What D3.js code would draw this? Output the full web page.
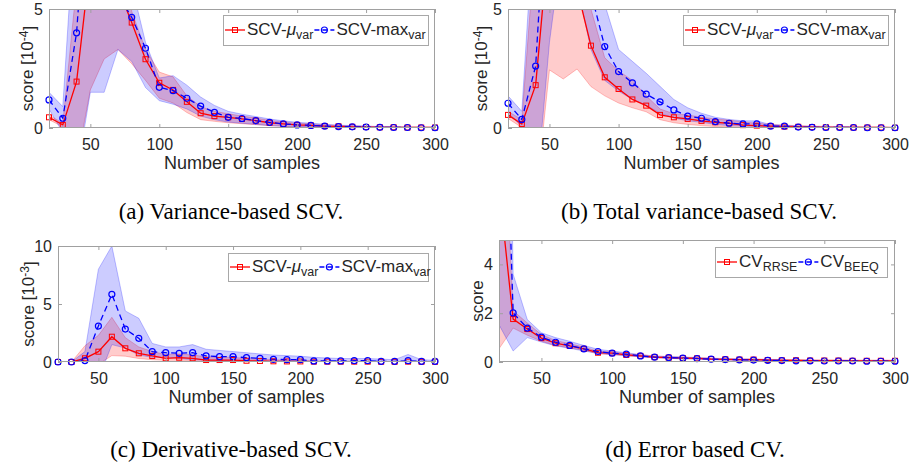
<!DOCTYPE html>
<html>
<head>
<meta charset="utf-8">
<script src="https://cdn.jsdelivr.net/npm/d3@7.9.0/dist/d3.min.js"></script>
<style>
  body { margin: 0; background: #fff; }
  svg { display: block; }
  text { font-family: "Liberation Sans", Arial, sans-serif; fill: #262626; }
  .cap { font-family: "Liberation Serif", "Times New Roman", serif; fill: #000; }
</style>
</head>
<body>
<svg id="fig" width="913" height="468"></svg>
<script>
/* ------------------------------- Data ------------------------------- */
const samples = [20, 30, 40, 50, 60, 70, 80, 90, 100, 110, 120, 130, 140, 150, 160,
  170, 180, 190, 200, 210, 220, 230, 240, 250, 260, 270, 280, 290, 300];

const xTicks = [50, 100, 150, 200, 250, 300];
const yTicksA = [0, 5];
const yTicksB = [0, 5];
const yTicksC = [0, 5, 10];
const yTicksD = [0, 2, 4];

// (a) variance-based SCV, score in 1e-4
const aMuMean = [0.45, 0.13, 1.95, 7.0, 9.0, 5.9, 4.43, 2.89, 1.9, 1.6, 1.1, 0.62, 0.5, 0.45, 0.38, 0.31, 0.22, 0.17, 0.13, 0.11, 0.08, 0.07, 0.05, 0.04, 0.03, 0.03, 0.02, 0.02, 0.02];
const aMuLo   = [0.35, 0.05, -1.5, 1.6, 2.9, 3.3, 2.7, 2.0, 1.25, 1.05, 0.65, 0.35, 0.28, 0.22, 0.18, 0.14, 0.1, 0.07, 0.05, 0.04, 0.03, 0.02, 0.01, 0.01, 0, 0, 0, 0, 0];
const aMuHi   = [0.55, 0.2, 6, 12, 14, 10, 4.9, 3.3, 2.35, 2.15, 1.35, 0.9, 0.7, 0.6, 0.5, 0.42, 0.32, 0.25, 0.2, 0.17, 0.13, 0.11, 0.09, 0.07, 0.06, 0.05, 0.04, 0.04, 0.03];
const aMaxMean = [1.18, 0.41, 4.0, 12, 10, 5.6, 4.65, 3.35, 1.71, 1.57, 1.25, 0.92, 0.66, 0.45, 0.4, 0.31, 0.24, 0.17, 0.13, 0.11, 0.08, 0.06, 0.05, 0.04, 0.03, 0.02, 0.02, 0.01, 0.01];
const aMaxLo   = [0.8, -0.2, -2, 1.5, 1.5, 3.3, 2.8, 1.7, 1.15, 1.0, 0.8, 0.5, 0.35, 0.25, 0.2, 0.15, 0.1, 0.07, 0.05, 0.04, 0.03, 0.02, 0.01, 0.01, 0, 0, 0, 0, 0];
const aMaxHi   = [1.5, 0.9, 10, 20, 18, 12, 6, 3.6, 2.1, 2.2, 1.8, 1.3, 0.95, 0.7, 0.58, 0.48, 0.38, 0.3, 0.24, 0.2, 0.16, 0.12, 0.1, 0.08, 0.06, 0.05, 0.04, 0.03, 0.03];

// (b) total variance-based SCV, score in 1e-4
const bMuMean = [0.55, 0.17, 1.8, 8.2, 9, 5.83, 3.46, 2.13, 1.64, 1.2, 0.94, 0.55, 0.45, 0.38, 0.3, 0.24, 0.2, 0.12, 0.1, 0.08, 0.06, 0.05, 0.04, 0.03, 0.03, 0.02, 0.02, 0.02, 0.01];
const bMuLo   = [0.4, 0.02, -3, 2.44, 2.06, 2.48, 1.74, 1.35, 1.05, 0.85, 0.68, 0.35, 0.22, 0.15, 0.1, 0.06, 0.04, 0.02, 0.01, 0.01, 0, 0, 0, 0, 0, 0, 0, 0, 0];
const bMuHi   = [0.7, 0.35, 8, 14, 15, 9, 5.0, 2.95, 2.4, 2.0, 1.35, 0.8, 0.6, 0.55, 0.45, 0.38, 0.33, 0.25, 0.2, 0.15, 0.12, 0.1, 0.08, 0.07, 0.06, 0.05, 0.04, 0.04, 0.03];
const bMaxMean = [1.04, 0.36, 2.6, 12.2, 11, 8, 5.68, 3.42, 2.37, 1.9, 1.42, 1.1, 0.76, 0.5, 0.41, 0.27, 0.2, 0.17, 0.17, 0.08, 0.08, 0.04, 0.03, 0.02, 0.02, 0.02, 0.01, 0.01, 0.01];
const bMaxLo   = [0.65, 0.05, -3, 3.6, 8, 6, 3.3, 2.0, 1.55, 1.2, 0.95, 0.62, 0.42, 0.3, 0.24, 0.15, 0.1, 0.08, 0.06, 0.04, 0.03, 0.02, 0.01, 0.01, 0, 0, 0, 0, 0];
const bMaxHi   = [1.35, 0.7, 10, 20, 16, 12, 8, 5.2, 3.3, 2.8, 2.3, 1.75, 1.2, 0.85, 0.62, 0.45, 0.36, 0.3, 0.3, 0.14, 0.12, 0.08, 0.06, 0.05, 0.04, 0.04, 0.03, 0.03, 0.02];

// (c) derivative-based SCV, score in 1e-3
const cMuMean = [0, 0, 0.32, 0.89, 2.18, 1.18, 0.75, 0.52, 0.32, 0.37, 0.32, 0.17, 0.17, 0.17, 0.11, 0.09, 0.06, 0.05, 0.05, 0.03, 0.03, 0.03, 0.03, 0.03, 0.02, 0.02, 0.03, 0.02, 0.02];
const cMuLo   = [0, 0, -0.3, -0.2, 0.55, 0.5, 0.3, 0.2, 0.15, 0.15, 0.12, 0.08, 0.07, 0.06, 0.04, 0.03, 0.02, 0.02, 0.01, 0.01, 0.01, 0, 0, 0, 0, 0, 0, 0, 0];
const cMuHi   = [0, 0, 1.4, 2.3, 3.85, 2.1, 1.3, 0.9, 0.65, 0.7, 0.6, 0.45, 0.42, 0.4, 0.3, 0.25, 0.2, 0.15, 0.12, 0.1, 0.08, 0.07, 0.07, 0.06, 0.05, 0.05, 0.08, 0.05, 0.04];
const cMaxMean = [0, 0, 0.12, 3.1, 5.83, 2.84, 2.04, 0.89, 0.8, 0.75, 0.8, 0.52, 0.46, 0.46, 0.37, 0.32, 0.23, 0.2, 0.2, 0.09, 0.09, 0.09, 0.11, 0.11, 0.06, 0.06, 0.11, 0.06, 0.06];
const cMaxLo   = [0, 0, -0.4, -1.5, 1.5, 1.2, 0.6, 0.4, 0.4, 0.3, 0.2, 0.15, 0.12, 0.1, 0.08, 0.06, 0.05, 0.04, 0.03, 0.02, 0.02, 0.02, 0.02, 0.02, 0.01, 0.01, 0.01, 0.01, 0.01];
const cMaxHi   = [0, 0, 0.9, 8.0, 10.0, 4.4, 3.77, 1.6, 1.3, 1.3, 1.5, 1.1, 1.0, 0.9, 0.8, 0.7, 0.6, 0.55, 0.5, 0.4, 0.35, 0.3, 0.3, 0.3, 0.25, 0.2, 0.65, 0.2, 0.15];

// (d) error based CV
const dRrseMean = [7.2, 1.76, 1.35, 0.98, 0.77, 0.66, 0.54, 0.38, 0.36, 0.29, 0.25, 0.2, 0.18, 0.16, 0.15, 0.12, 0.11, 0.1, 0.1, 0.08, 0.07, 0.07, 0.06, 0.06, 0.06, 0.05, 0.05, 0.05, 0.05];
const dRrseLo   = [0.54, 1.39, 1.1, 0.85, 0.68, 0.58, 0.48, 0.33, 0.31, 0.25, 0.21, 0.17, 0.15, 0.13, 0.12, 0.1, 0.09, 0.08, 0.08, 0.06, 0.05, 0.05, 0.04, 0.04, 0.04, 0.03, 0.03, 0.03, 0.03];
const dRrseHi   = [14, 2.1, 1.6, 1.12, 0.88, 0.75, 0.61, 0.44, 0.42, 0.34, 0.3, 0.25, 0.22, 0.2, 0.19, 0.16, 0.14, 0.13, 0.13, 0.11, 0.1, 0.1, 0.09, 0.09, 0.09, 0.08, 0.08, 0.08, 0.08];
const dBeeqMean = [20, 2.01, 1.39, 1.02, 0.81, 0.68, 0.54, 0.43, 0.36, 0.32, 0.25, 0.2, 0.18, 0.16, 0.14, 0.12, 0.1, 0.09, 0.08, 0.07, 0.06, 0.05, 0.05, 0.04, 0.04, 0.04, 0.03, 0.03, 0.03];
const dBeeqLo   = [1.53, 0.45, 1.0, 0.82, 0.66, 0.56, 0.45, 0.36, 0.3, 0.27, 0.21, 0.17, 0.15, 0.13, 0.12, 0.1, 0.08, 0.07, 0.06, 0.05, 0.05, 0.04, 0.04, 0.03, 0.03, 0.03, 0.02, 0.02, 0.02];
const dBeeqHi   = [38, 3.6, 1.74, 1.2, 1.0, 0.85, 0.68, 0.52, 0.45, 0.38, 0.3, 0.24, 0.22, 0.2, 0.17, 0.15, 0.13, 0.12, 0.11, 0.09, 0.08, 0.07, 0.07, 0.06, 0.06, 0.05, 0.05, 0.04, 0.04];

const RED = "#ff0000";
const BLUE = "#0000ff";

const muLabel  = [{ t: "SCV-" }, { t: "\u03bc", it: true }, { t: "var", sub: true }];
const maxLabel = [{ t: "SCV-max" }, { t: "var", sub: true }];

/* ---------------------------- Panel layout ---------------------------- */
const panels = [
  { id: "a", l: 49, r: 435, t: 9, b: 128, yMax: 5, yTicks: yTicksA, ylab: "score [10", exp: "-4", ylabX: 27,
    caption: "(a) Variance-based SCV.", capX: 231, capY: 219,
    legend: { x: 223, y: 15, w: 205, h: 30 },
    series: [
      { mean: aMuMean, lo: aMuLo, hi: aMuHi, color: RED, marker: "square", dash: null, label: muLabel },
      { mean: aMaxMean, lo: aMaxLo, hi: aMaxHi, color: BLUE, marker: "circle", dash: "6,4", label: maxLabel }
    ] },
  { id: "b", l: 508, r: 895, t: 9, b: 128, yMax: 5, yTicks: yTicksB, ylab: "score [10", exp: "-4", ylabX: 481,
    caption: "(b) Total variance-based SCV.", capX: 699, capY: 219,
    legend: { x: 683, y: 15, w: 205, h: 30 },
    series: [
      { mean: bMuMean, lo: bMuLo, hi: bMuHi, color: RED, marker: "square", dash: null, label: muLabel },
      { mean: bMaxMean, lo: bMaxLo, hi: bMaxHi, color: BLUE, marker: "circle", dash: "6,4", label: maxLabel }
    ] },
  { id: "c", l: 58, r: 435, t: 246, b: 362, yMax: 10, yTicks: yTicksC, ylab: "score [10", exp: "-3", ylabX: 28,
    caption: "(c) Derivative-based SCV.", capX: 231, capY: 457,
    legend: { x: 228, y: 253, w: 200, h: 28 },
    series: [
      { mean: cMuMean, lo: cMuLo, hi: cMuHi, color: RED, marker: "square", dash: null, label: muLabel },
      { mean: cMaxMean, lo: cMaxLo, hi: cMaxHi, color: BLUE, marker: "circle", dash: "6,4", label: maxLabel }
    ] },
  { id: "d", l: 499, r: 895, t: 240, b: 362, yMax: 5, yTicks: yTicksD, ylab: "score", exp: null, ylabX: 477,
    caption: "(d) Error based CV.", capX: 695, capY: 457,
    legend: { x: 715, y: 247, w: 172, h: 30 },
    series: [
      { mean: dRrseMean, lo: dRrseLo, hi: dRrseHi, color: RED, marker: "square", dash: null,
        label: [{ t: "CV" }, { t: "RRSE", sub: true }] },
      { mean: dBeeqMean, lo: dBeeqLo, hi: dBeeqHi, color: BLUE, marker: "circle", dash: "6,4",
        label: [{ t: "CV" }, { t: "BEEQ", sub: true }] }
    ] }
];

const svg = d3.select("#fig");

function drawMarker(g, type, cx, cy, color) {
  if (type === "square") {
    g.append("rect").attr("x", cx - 2.5).attr("y", cy - 2.5).attr("width", 5).attr("height", 5)
      .attr("fill", "none").attr("stroke", color).attr("stroke-width", 1);
  } else {
    g.append("circle").attr("cx", cx).attr("cy", cy).attr("r", 3)
      .attr("fill", "none").attr("stroke", color).attr("stroke-width", 1.2);
  }
}

function drawPanel(p) {
  const x = d3.scaleLinear().domain([20, 300]).range([p.l, p.r]);
  const y = d3.scaleLinear().domain([0, p.yMax]).range([p.b, p.t]);
  const g = svg.append("g").attr("class", "panel-" + p.id);

  const clipId = "clip-" + p.id;
  svg.append("clipPath").attr("id", clipId)
    .append("rect").attr("x", p.l).attr("y", p.t).attr("width", p.r - p.l).attr("height", p.b - p.t);
  const plot = g.append("g").attr("clip-path", `url(#${clipId})`);

  const rowsOf = (s) => samples.map((n, i) => ({ n, m: s.mean[i], lo: s.lo[i], hi: s.hi[i] }));

  // shaded bands first
  p.series.forEach((s) => {
    const area = d3.area().x((d) => x(d.n)).y0((d) => y(d.lo)).y1((d) => y(d.hi));
    plot.append("path").datum(rowsOf(s)).attr("d", area)
      .attr("fill", s.color).attr("fill-opacity", 0.2)
      .attr("stroke", s.color).attr("stroke-opacity", 0.3).attr("stroke-width", 0.8);
  });

  // mean lines
  p.series.forEach((s) => {
    const line = d3.line().x((d) => x(d.n)).y((d) => y(d.m));
    plot.append("path").datum(rowsOf(s)).attr("d", line)
      .attr("fill", "none").attr("stroke", s.color).attr("stroke-width", 1.3)
      .attr("stroke-dasharray", s.dash);
  });

  // markers (only those inside the y range)
  p.series.forEach((s) => {
    const mg = g.append("g");
    rowsOf(s).filter((d) => d.m <= p.yMax).forEach((d) => drawMarker(mg, s.marker, x(d.n), y(d.m), s.color));
  });

  // axes: ticks inside on all four sides
  const tickStyle = (ax) => {
    ax.select(".domain").remove();
    ax.selectAll(".tick line").attr("stroke", "#a0a0a0");
    ax.selectAll(".tick text").attr("fill", "#262626").style("font-size", "16px")
      .style("font-family", '"Liberation Sans", Arial, sans-serif');
  };
  const fmt = d3.format("d");
  g.append("g").attr("transform", `translate(0,${p.b})`)
    .call(d3.axisBottom(x).tickValues(xTicks).tickFormat(fmt).tickSizeInner(-4).tickSizeOuter(0).tickPadding(11))
    .call(tickStyle);
  g.append("g").attr("transform", `translate(0,${p.t})`)
    .call(d3.axisTop(x).tickValues(xTicks).tickSizeInner(-4).tickSizeOuter(0).tickFormat(""))
    .call(tickStyle);
  g.append("g").attr("transform", `translate(${p.l},0)`)
    .call(d3.axisLeft(y).tickValues(p.yTicks).tickFormat(fmt).tickSizeInner(-4).tickSizeOuter(0).tickPadding(6))
    .call(tickStyle);
  g.append("g").attr("transform", `translate(${p.r},0)`)
    .call(d3.axisRight(y).tickValues(p.yTicks).tickSizeInner(-4).tickSizeOuter(0).tickFormat(""))
    .call(tickStyle);

  g.append("rect").attr("x", p.l + 0.5).attr("y", p.t + 0.5)
    .attr("width", p.r - p.l - 1).attr("height", p.b - p.t - 1)
    .attr("fill", "none").attr("stroke", "#a0a0a0").attr("stroke-width", 1);

  // axis labels
  g.append("text").attr("x", (p.l + p.r) / 2).attr("y", p.b + 41)
    .attr("text-anchor", "middle").style("font-size", "18px").text("Number of samples");

  const yl = g.append("text")
    .attr("transform", `translate(${p.ylabX},${(p.t + p.b) / 2}) rotate(-90)`)
    .attr("text-anchor", "middle").attr("dy", "0.35em").style("font-size", "17px");
  yl.append("tspan").text(p.ylab);
  if (p.exp) {
    yl.append("tspan").attr("dy", "-0.45em").style("font-size", "12px").text(p.exp);
    yl.append("tspan").attr("dy", "0.45em").text("]");
  }

  drawLegend(g, p);

  // caption
  svg.append("text").attr("class", "cap").attr("x", p.capX).attr("y", p.capY)
    .attr("text-anchor", "middle").style("font-size", "23px").text(p.caption);
}

function drawLegend(g, p) {
  const L = p.legend;
  const lg = g.append("g");
  lg.append("rect").attr("x", L.x + 0.5).attr("y", L.y + 0.5).attr("width", L.w).attr("height", L.h)
    .attr("fill", "#fff").attr("stroke", "#a8a8a8").attr("stroke-width", 1);
  const cy = L.y + L.h / 2;
  let cx = L.x + 2;
  p.series.forEach((s) => {
    lg.append("line").attr("x1", cx).attr("x2", cx + 20).attr("y1", cy).attr("y2", cy)
      .attr("stroke", s.color).attr("stroke-width", 1.3).attr("stroke-dasharray", s.dash ? "5,3" : null);
    drawMarker(lg, s.marker, cx + 10, cy, s.color);
    const t = lg.append("text").attr("x", cx + 22).attr("y", cy + 5).style("font-size", "17px");
    s.label.forEach((part) => {
      const sp = t.append("tspan").text(part.t);
      if (part.it) sp.style("font-style", "italic");
      if (part.sub) sp.attr("dy", "0.3em").style("font-size", "12.5px");
    });
    cx = cx + 22 + t.node().getComputedTextLength() + 1;
  });
}

panels.forEach(drawPanel);
</script>
</body>
</html>
